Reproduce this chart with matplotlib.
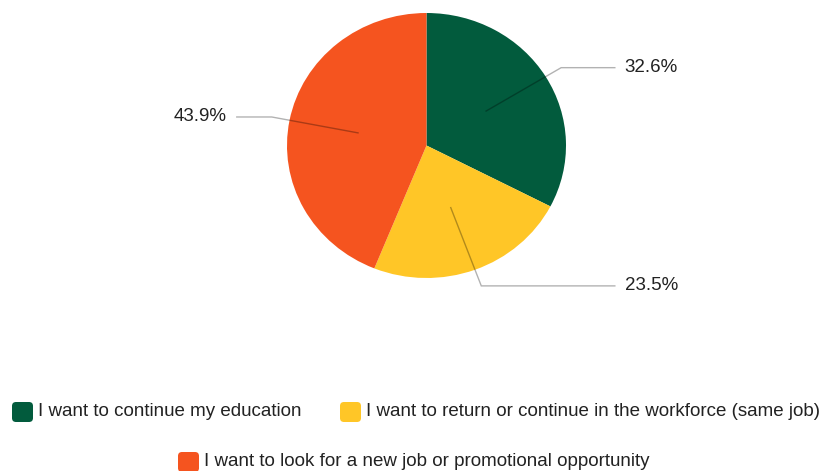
import numpy as np
import matplotlib.pyplot as plt
from matplotlib.patches import FancyBboxPatch

# Data
categories = [
    "I want to continue my education",
    "I want to return or continue in the workforce (same job)",
    "I want to look for a new job or promotional opportunity",
]
shares = [32.6, 23.5, 43.9]
colors = ["#025B3D", "#FFC627", "#F5541F"]

W, H = 820, 471
fig = plt.figure(figsize=(W / 100, H / 100), dpi=100)

# full-figure axes in pixel coords (y down) for the legend
bg = fig.add_axes([0, 0, 1, 1])
bg.set_xlim(0, W)
bg.set_ylim(H, 0)
bg.axis("off")

# pie axes, slightly wider than tall like the reference
left, top, right, bottom = 287, 13, 566, 278
ax = fig.add_axes([left / W, 1 - bottom / H, (right - left) / W, (bottom - top) / H])
wedges, _ = ax.pie(shares, colors=colors, startangle=90, counterclock=False,
                   wedgeprops=dict(linewidth=0))
ax.set_aspect("auto")
ax.set_xlim(-1, 1)
ax.set_ylim(-1, 1)
ax.axis("off")

px = 2 / (right - left)  # one pixel in pie x units

# Leader lines + percentage labels
for w, val in zip(wedges, shares):
    mid = np.deg2rad((w.theta1 + w.theta2) / 2)
    x0, y0 = 0.5 * np.cos(mid), 0.5 * np.sin(mid)
    x1, y1 = 1.13 * np.cos(mid), 1.13 * np.sin(mid)
    is_right = np.cos(mid) > 0
    x2 = 1.35 if is_right else -1.36
    ax.plot([x0, x1, x2], [y0, y1, y1], color="black", alpha=0.3, lw=1,
            clip_on=False, solid_joinstyle="miter")
    ax.text(x2 + (10 * px if is_right else -10 * px), y1, f"{val}%",
            ha="left" if is_right else "right", va="center",
            fontsize=13.5, color="#222222", family="Liberation Sans", clip_on=False)

# Legend (manual, two rows, second centred)
legend_pos = [(12, 412), (340, 412), (178, 462)]
for (lx, ly), col, lab in zip(legend_pos, colors, categories):
    bg.add_patch(FancyBboxPatch((lx + 3, ly - 7), 15, 14,
                                boxstyle="round,pad=3,rounding_size=4",
                                facecolor=col, edgecolor="none"))
    bg.text(lx + 26, ly, lab, ha="left", va="center",
            fontsize=13.5, color="#222222", family="Liberation Sans")

fig.savefig("out.png", dpi=100)
